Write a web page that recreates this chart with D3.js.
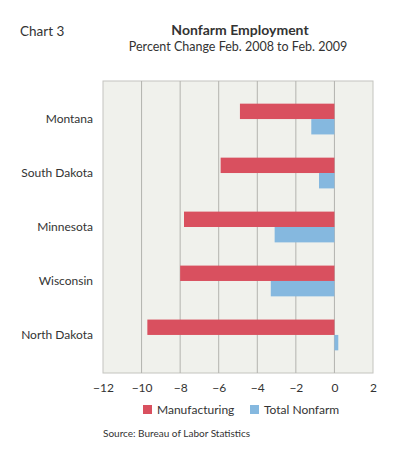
<!DOCTYPE html>
<html>
<head>
<meta charset="utf-8">
<script src="https://cdn.jsdelivr.net/npm/d3@7"></script>
<style>
  body { margin: 0; background: #fff; }
  text { font-family: Lato, "Noto Sans", sans-serif; fill: #333; }
</style>
</head>
<body>
<div id="chart"></div>
<script>
var states = ["Montana", "South Dakota", "Minnesota", "Wisconsin", "North Dakota"];
var manufacturing = [-4.9, -5.9, -7.8, -8.0, -9.7];
var totalNonfarm = [-1.2, -0.8, -3.1, -3.3, 0.2];
var xTicks = [-12, -10, -8, -6, -4, -2, 0, 2];
var seriesNames = ["Manufacturing", "Total Nonfarm"];
var seriesColors = ["#d9505f", "#85b8df"];

var W = 415, H = 452;
var margin = {top: 81, right: 42, bottom: 79, left: 103},
    width = W - margin.left - margin.right,
    height = H - margin.top - margin.bottom;

var svg = d3.select("#chart").append("svg")
    .attr("width", W)
    .attr("height", H);

// titles
svg.append("text").attr("x", 20).attr("y", 36)
    .style("font-size", "13.5px").text("Chart 3");
svg.append("text").attr("x", 240).attr("y", 35)
    .attr("text-anchor", "middle")
    .style("font-size", "14px").style("font-weight", "bold")
    .text("Nonfarm Employment");
svg.append("text").attr("x", 238).attr("y", 51)
    .attr("text-anchor", "middle")
    .style("font-size", "12.5px")
    .text("Percent Change Feb. 2008 to Feb. 2009");

var g = svg.append("g")
    .attr("transform", "translate(" + margin.left + "," + margin.top + ")");

var x = d3.scaleLinear().domain([-12, 2]).range([0, width]);
var y0 = d3.scaleBand().domain(states).range([0, height])
    .paddingInner(0.43).paddingOuter(0.42);
var y1 = d3.scaleBand().domain(seriesNames).range([0, y0.bandwidth()]);

g.append("rect")
    .attr("width", width).attr("height", height)
    .attr("fill", "#f0f1ec")
    .attr("stroke", "#c4c4bf");

g.selectAll(".grid").data(xTicks.slice(1, -1)).enter().append("line")
    .attr("x1", d => x(d)).attr("x2", d => x(d))
    .attr("y1", 0).attr("y2", height)
    .attr("stroke", "#b3b3ae").attr("stroke-width", 1);

var rows = states.map((s, i) => ({state: s, values: [manufacturing[i], totalNonfarm[i]]}));

var grp = g.selectAll(".state").data(rows).enter().append("g")
    .attr("transform", d => "translate(0," + y0(d.state) + ")");

grp.selectAll("rect").data(d => d.values.map((v, j) => ({v: v, s: seriesNames[j], c: seriesColors[j]})))
    .enter().append("rect")
    .attr("x", d => x(Math.min(0, d.v)))
    .attr("width", d => Math.abs(x(d.v) - x(0)))
    .attr("y", d => y1(d.s))
    .attr("height", y1.bandwidth())
    .attr("fill", d => d.c);

// category labels
g.selectAll(".lab").data(states).enter().append("text")
    .attr("x", -10)
    .attr("y", d => y0(d) + y0.bandwidth() / 2)
    .attr("dy", "0.35em")
    .attr("text-anchor", "end")
    .style("font-size", "12px")
    .text(d => d);

// x axis
var xAxis = d3.axisBottom(x).tickValues(xTicks).tickSize(0).tickPadding(10)
    .tickFormat(d => d < 0 ? "\u2212" + Math.abs(d) : d);
var ax = g.append("g").attr("transform", "translate(0," + height + ")").call(xAxis);
ax.select(".domain").remove();
ax.selectAll("text").style("font-size", "12px").attr("fill", "#333");

// legend
var legX = [143, 250];
var leg = svg.selectAll(".leg").data(seriesNames).enter().append("g")
    .attr("transform", (d, i) => "translate(" + legX[i] + ",405)");
leg.append("rect").attr("width", 9).attr("height", 9).attr("fill", (d, i) => seriesColors[i]);
leg.append("text").attr("x", 14).attr("y", 9)
    .style("font-size", "12px").text(d => d);

svg.append("text").attr("x", 103).attr("y", 437)
    .style("font-size", "10px").text("Source: Bureau of Labor Statistics");
</script>
</body>
</html>
